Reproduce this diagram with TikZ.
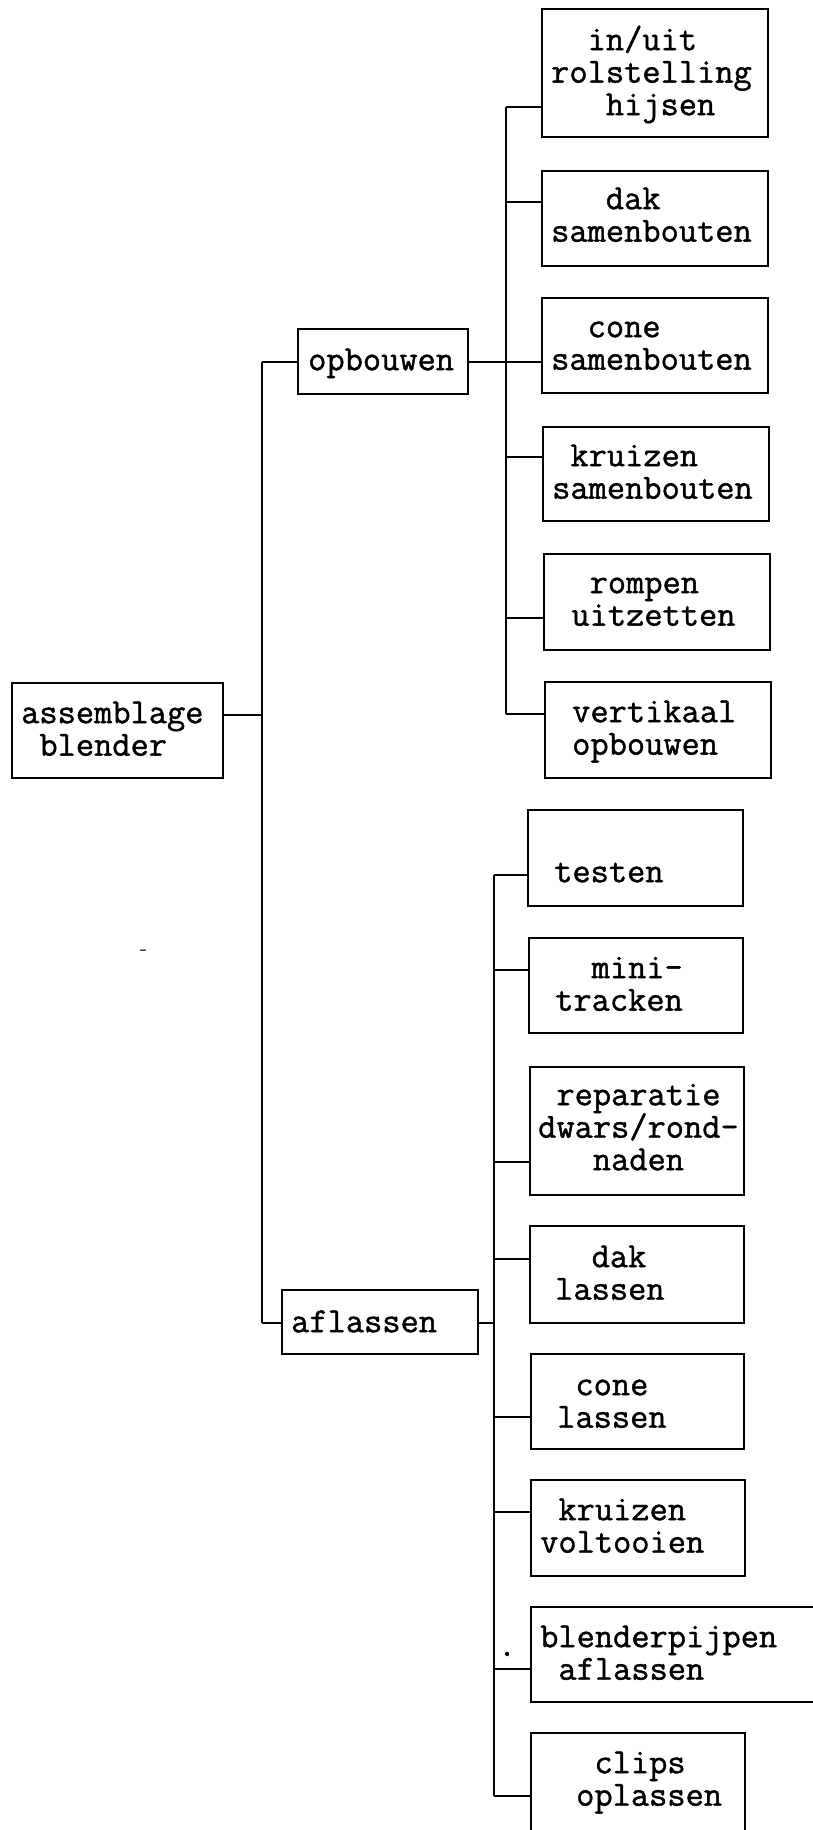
\documentclass[tikz,border=0pt]{standalone}
\usepackage{fontspec}
\newfontfamily\typewr{Latin Modern Mono}[FakeBold=1.2]
\usetikzlibrary{calc}
\tikzset{
  box/.style={draw, line width=1.5pt, rectangle, inner sep=0pt},
  lbl/.style={anchor=north west, inner sep=0pt, align=left,
              font=\typewr\fontsize{35.4}{32.5}\selectfont},
  wire/.style={line width=1.4pt},
}
% name, left, top, right, bottom
\newcommand\mybox[5]{%
  \node[box, minimum width={(#4-#2)*1pt}, minimum height={(#5-#3)*1pt}]
    (#1) at ({(#2+#4)/2},{(#3+#5)/2}) {};}
% name, x of first cell, first baseline, text
\newcommand\mytext[4]{%
  \node[lbl] (#1) at (#2,{#3-22.75}) {#4};}
\newcommand\lead[1]{\phantom{#1}}
\newcommand\myslash{\smash{/}}
\begin{document}
\begin{tikzpicture}[x=1pt,y=-1pt]
\useasboundingbox (0,0) rectangle (812,1830);
% boxes
\mybox{A}{12}{683}{223}{778}
\mybox{O}{298}{329}{468}{394}
\mybox{L}{282}{1290}{478}{1354}
\mybox{U1}{542}{9}{768}{137}
\mybox{U2}{542}{171}{768}{266}
\mybox{U3}{542}{298}{768}{393}
\mybox{U4}{543}{427}{769}{521}
\mybox{U5}{544}{554}{770}{650}
\mybox{U6}{545}{682}{771}{778}
\mybox{D1}{528}{810}{743}{906}
\mybox{D2}{529}{938}{743}{1033}
\mybox{D3}{530}{1067}{744}{1195}
\mybox{D4}{530}{1226}{744}{1323}
\mybox{D5}{531}{1354}{744}{1449}
\mybox{D6}{531}{1480}{745}{1576}
\mybox{D7}{531}{1607}{822}{1702}
\mybox{D8}{531}{1733}{745}{1842}
% texts
\mytext{tA}{21}{723}{\strut assemblage\\\strut\lead{x}blender}
\mytext{tO}{308}{370}{\strut opbouwen}
\mytext{tL}{291}{1332}{\strut aflassen}
\mytext{tU1}{551}{50}{\strut\lead{xx}in\myslash uit\\\strut rolstelling\\\strut\lead{xxx}hijsen}
\mytext{tU2}{551}{209}{\strut\lead{xxx}dak\\\strut samenbouten}
\mytext{tU3}{551}{337}{\strut\lead{xx}cone\\\strut samenbouten}
\mytext{tU4}{552}{466}{\strut\lead{x}kruizen\\\strut samenbouten}
\mytext{tU5}{553}{593}{\strut\lead{xx}rompen\\\strut\lead{x}uitzetten}
\mytext{tU6}{572}{722}{\strut vertikaal\\\strut opbouwen}
\mytext{tD1}{554}{882}{\strut testen}
\mytext{tD2}{555}{978}{\strut\lead{xx}mini-\\\strut tracken}
\mytext{tD3}{538}{1105}{\strut\lead{x}reparatie\\\strut dwars\myslash rond-\\\strut\lead{xxx}naden}
\mytext{tD4}{555}{1267}{\strut\lead{xx}dak\\\strut lassen}
\mytext{tD5}{557}{1395}{\strut\lead{x}cone\\\strut lassen}
\mytext{tD6}{540}{1520}{\strut\lead{x}kruizen\\\strut voltooien}
\mytext{tD7}{540}{1647}{\strut blenderpijpen\\\strut\lead{x}aflassen}
\mytext{tD8}{576}{1773}{\strut\lead{x}clips\\\strut oplassen}
% junction coordinates
\coordinate (mt) at (262,362);
\coordinate (ma) at (262,715);
\coordinate (mb) at (262,1323);
\coordinate (u1) at (506,107);
\coordinate (u2) at (506,202);
\coordinate (u3) at (506,362);
\coordinate (u4) at (506,457);
\coordinate (u5) at (506,618);
\coordinate (u6) at (506,714);
\coordinate (lj) at (494,1323);
\coordinate (d1) at (494,875);
\coordinate (d2) at (494,970);
\coordinate (d3) at (494,1162);
\coordinate (d4) at (494,1259);
\coordinate (d5) at (494,1417);
\coordinate (d6) at (494,1512);
\coordinate (d7) at (494,1669);
\coordinate (d8) at (494,1796);
% main tree
\draw[wire] (mt) -- (mb);
\draw[wire] (A.east |- ma) -- (ma);
\draw[wire] (mt) -- (O.west |- mt);
\draw[wire] (mb) -- (L.west |- mb);
% upper branch
\draw[wire] (u1) -- (u6);
\draw[wire] (O.east |- u3) -- (U3.west |- u3);
\foreach \i in {1,2,4,5,6} \draw[wire] (u\i) -- (U\i.west |- u\i);
% lower branch
\draw[wire] (d1) -- (d8);
\draw[wire] (L.east |- lj) -- (lj);
\foreach \i in {1,...,8} \draw[wire] (d\i) -- (D\i.west |- d\i);
% stray marks in the original
\node[inner sep=0pt, font=\typewr\fontsize{35.4}{32.5}\selectfont, anchor=base] (dot) at (507,1656) {.};
\node[inner sep=0pt, font=\typewr\fontsize{14}{14}\selectfont] (dash) at (143,952) {-};
\end{tikzpicture}
\end{document}
